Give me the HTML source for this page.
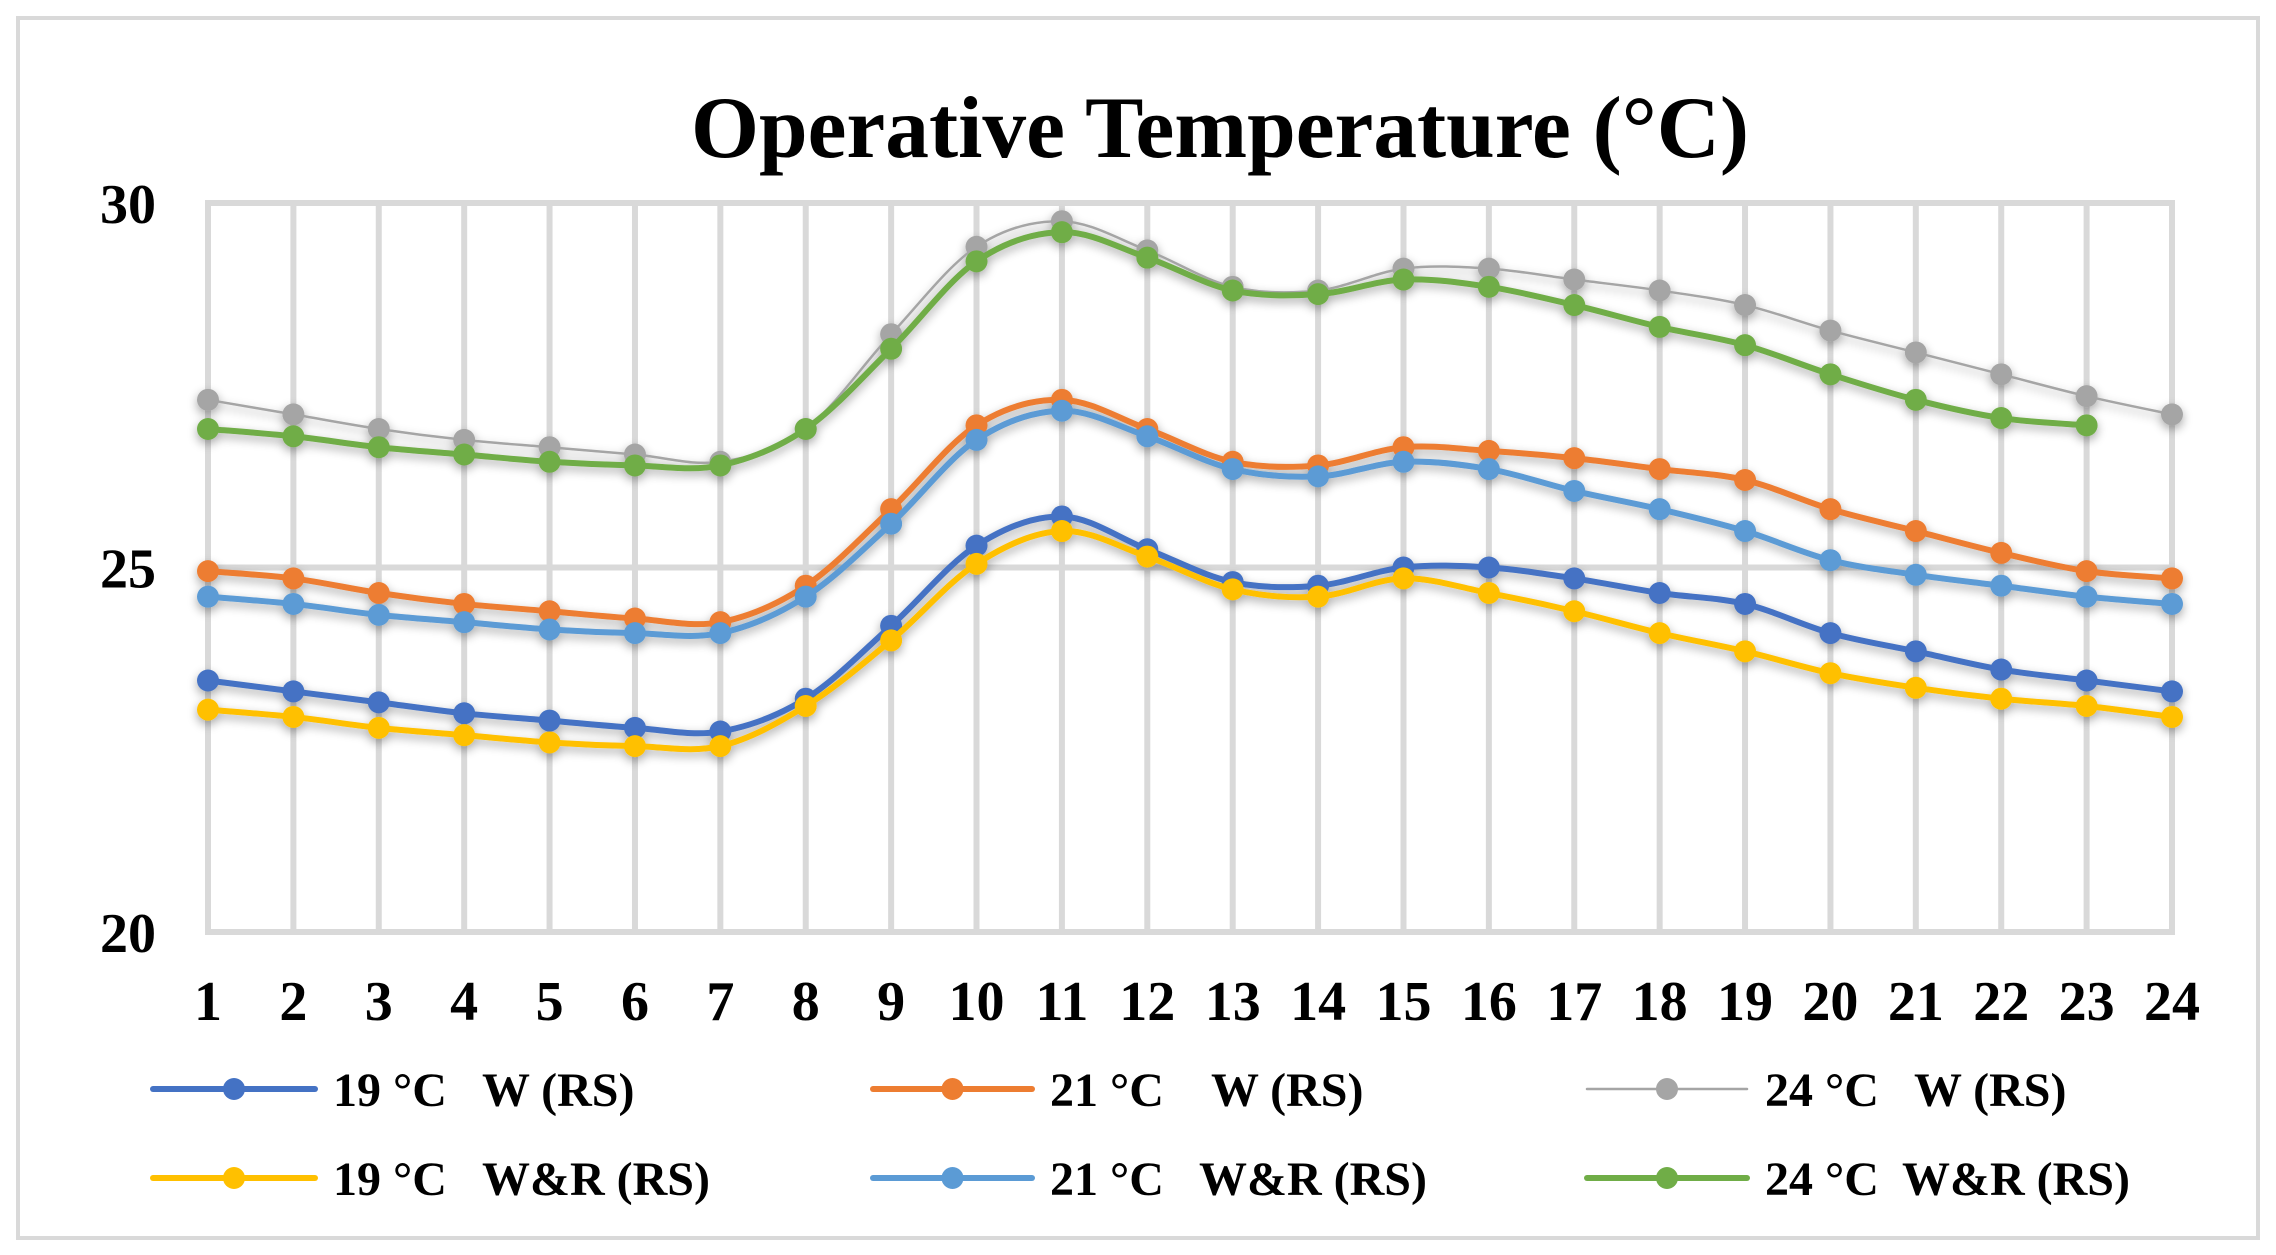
<!DOCTYPE html>
<html><head><meta charset="utf-8"><style>
html,body{margin:0;padding:0;background:#fff;}
svg{display:block;font-family:"Liberation Serif",serif;font-weight:bold;}
</style></head><body>
<svg id="chart" width="2276" height="1255" viewBox="0 0 2276 1255" xmlns="http://www.w3.org/2000/svg">
<defs><filter id="sh" x="-5%" y="-20%" width="110%" height="140%"><feGaussianBlur in="SourceAlpha" stdDeviation="5"/><feOffset dy="4"/><feComponentTransfer><feFuncA type="linear" slope="0.35"/></feComponentTransfer><feMerge><feMergeNode/><feMergeNode in="SourceGraphic"/></feMerge></filter></defs>
<rect x="18" y="18" width="2240" height="1220" fill="#fff" stroke="#d9d9d9" stroke-width="4"/>
<text x="1220" y="157" font-size="88" text-anchor="middle" textLength="1058" lengthAdjust="spacingAndGlyphs">Operative Temperature (°C)</text>
<g id="grid"></g>
<g id="yticks"></g>
<g id="xticks"></g>
<g id="series" filter="url(#sh)"></g>
<g id="legend"></g>
</svg>
<script>
const categories = [1,2,3,4,5,6,7,8,9,10,11,12,13,14,15,16,17,18,19,20,21,22,23,24];
const yTicks = [20,25,30];
const s19W = [23.45,23.3,23.15,23.0,22.9,22.8,22.75,23.2,24.2,25.3,25.7,25.25,24.8,24.75,25.0,25.0,24.85,24.65,24.5,24.1,23.85,23.6,23.45,23.3];
const s21W = [24.95,24.85,24.65,24.5,24.4,24.3,24.25,24.75,25.8,26.95,27.3,26.9,26.45,26.4,26.65,26.6,26.5,26.35,26.2,25.8,25.5,25.2,24.95,24.85];
const s24W = [27.3,27.1,26.9,26.75,26.65,26.55,26.45,26.9,28.2,29.4,29.75,29.35,28.85,28.8,29.1,29.1,28.95,28.8,28.6,28.25,27.95,27.65,27.35,27.1];
const s19WR = [23.05,22.95,22.8,22.7,22.6,22.55,22.55,23.1,24.0,25.05,25.5,25.15,24.7,24.6,24.85,24.65,24.4,24.1,23.85,23.55,23.35,23.2,23.1,22.95];
const s21WR = [24.6,24.5,24.35,24.25,24.15,24.1,24.1,24.6,25.6,26.75,27.15,26.8,26.35,26.25,26.45,26.35,26.05,25.8,25.5,25.1,24.9,24.75,24.6,24.5];
const s24WR = [26.9,26.8,26.65,26.55,26.45,26.4,26.4,26.9,28.0,29.2,29.6,29.25,28.8,28.75,28.95,28.85,28.6,28.3,28.05,27.65,27.3,27.05,26.95];
const seriesNames = ["19 °C   W (RS)","21 °C    W (RS)","24 °C   W (RS)","19 °C   W&R (RS)","21 °C   W&R (RS)","24 °C  W&R (RS)"];

const NS="http://www.w3.org/2000/svg";
const X0=208,X1=2172,Y0=932,Y1=203;
const xs=i=>X0+(X1-X0)*i/(categories.length-1);
const ys=v=>Y0-(Y0-Y1)*(v-20)/10;
function mk(t,a,p){const e=document.createElementNS(NS,t);for(const k in a)e.setAttribute(k,a[k]);p.appendChild(e);return e;}
const grid=document.getElementById('grid');
categories.forEach((c,i)=>{
  const l=mk('line',{x1:xs(i),x2:xs(i),y1:Y1,y2:Y0,stroke:'#d9d9d9','stroke-width':6},grid);
  
  
  const t=mk('text',{x:xs(i),y:1020,'font-size':56,'text-anchor':'middle'},document.getElementById('xticks'));
  t.textContent=c;
  
  
});
yTicks.forEach(v=>{
  const l=mk('line',{x1:X0-3,x2:X1+3,y1:ys(v),y2:ys(v),stroke:'#d9d9d9','stroke-width':6},grid);
  
  
  const t=mk('text',{x:128,y:ys(v)+20,'font-size':56,'text-anchor':'middle'},document.getElementById('yticks'));
  t.textContent=v;
  
  
});
function pathD(arr){
  const p=arr.map((v,i)=>[xs(i),ys(v)]);
  let d='M'+p[0][0]+','+p[0][1];
  for(let i=0;i<p.length-1;i++){
    const a=p[i-1]||p[i],b=p[i],c=p[i+1],e=p[i+2]||c;
    const t=1/6;
    d+=' C'+(b[0]+(c[0]-a[0])*t)+','+(b[1]+(c[1]-a[1])*t)+' '+(c[0]-(e[0]-b[0])*t)+','+(c[1]-(e[1]-b[1])*t)+' '+c[0]+','+c[1];
  }
  return d;
}
const defs=[
 [s24W,'#a5a5a5',2.5,'series-24c-w'],
 [s24WR,'#70ad47',6,'series-24c-wr'],
 [s21W,'#ed7d31',6,'series-21c-w'],
 [s21WR,'#5b9bd5',6,'series-21c-wr'],
 [s19W,'#4472c4',6,'series-19c-w'],
 [s19WR,'#ffc000',6,'series-19c-wr']];
const sg=document.getElementById('series');
defs.forEach(([arr,col,w,name])=>{
  const g=mk('g',{},sg);
  
  
  const p=mk('path',{d:pathD(arr),fill:'none',stroke:col,'stroke-width':w},g);
  
  
  arr.forEach((v,i)=>{
    const c=mk('circle',{cx:xs(i),cy:ys(v),r:11,fill:col},g);
    
    
  });
});
const legCols=[[153,315,333],[873,1032,1050],[1587,1747,1765]];
const legRows=[1089,1178];
const legColors=['#4472c4','#ed7d31','#a5a5a5','#ffc000','#5b9bd5','#70ad47'];
const lg=document.getElementById('legend');
seriesNames.forEach((n,k)=>{
  const col=legCols[k%3],y=legRows[Math.floor(k/3)];
  const g=mk('g',{},lg);
  
  
  mk('line',{x1:col[0],x2:col[1],y1:y,y2:y,stroke:legColors[k],'stroke-width':k==2?2.5:6,'stroke-linecap':'round'},g);
  mk('circle',{cx:(col[0]+col[1])/2,cy:y,r:11,fill:legColors[k]},g);
  const t=mk('text',{x:col[2],y:y+17,'font-size':48},g);
  t.textContent=n;
  t.setAttribute('style','white-space:pre');
});
</script>
</body></html>
